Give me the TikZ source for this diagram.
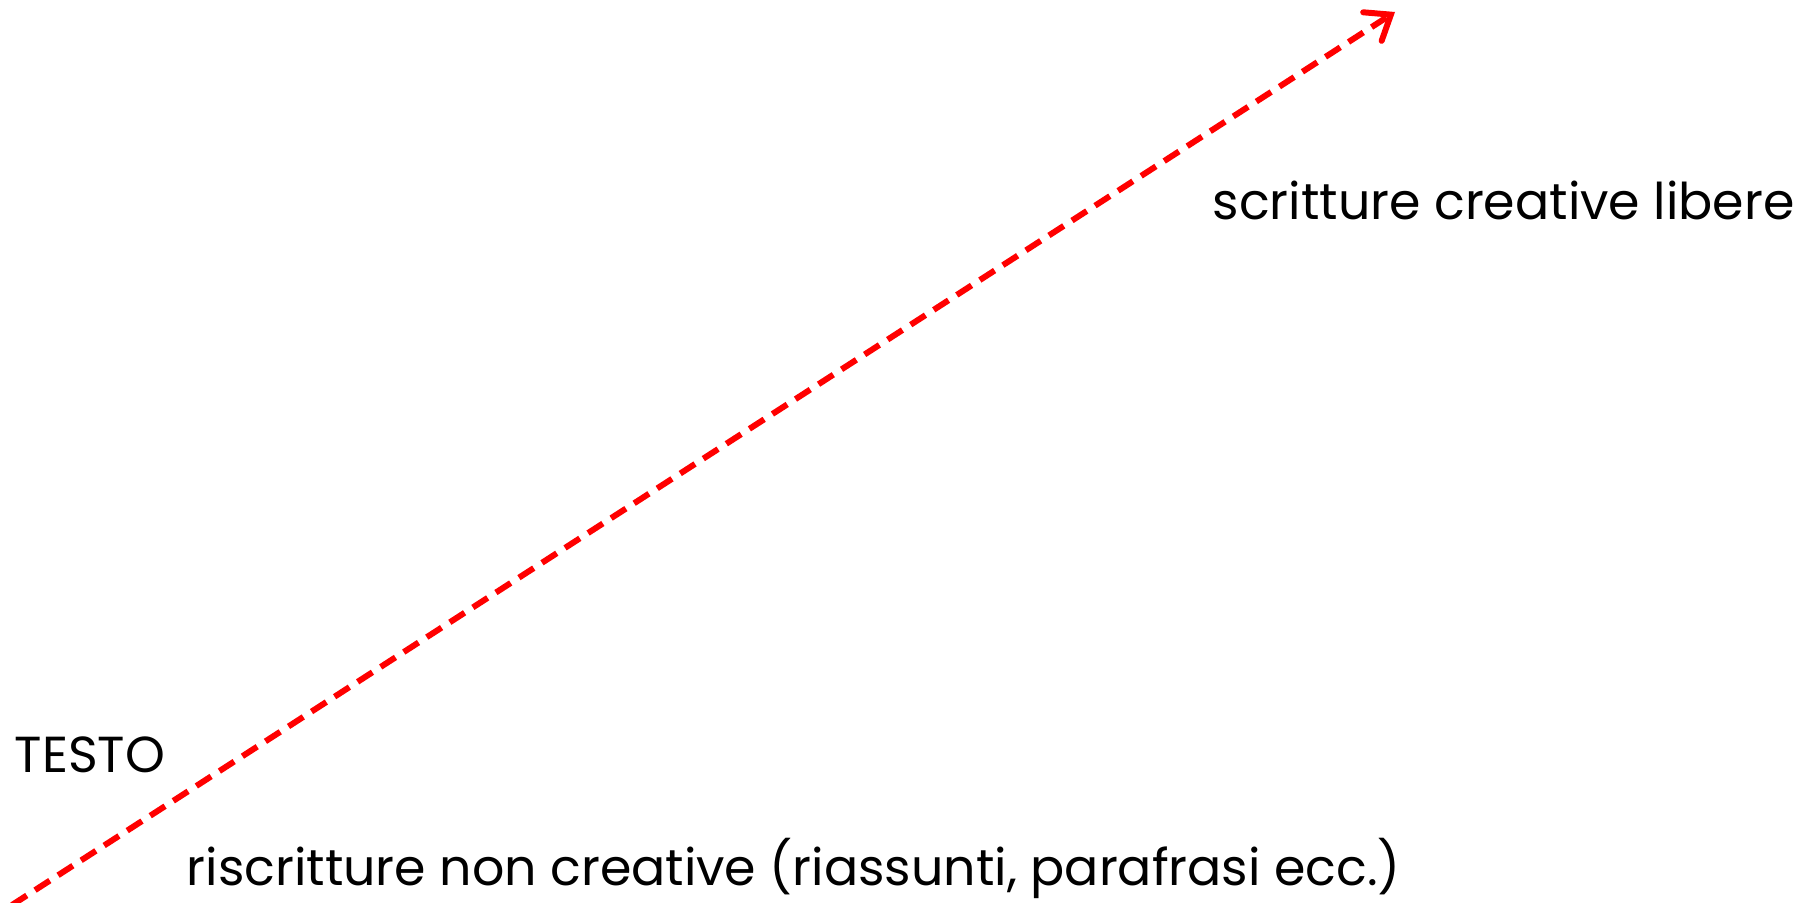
\documentclass[tikz,border=0pt]{standalone}
\usepackage{fontspec}
\setmainfont{Poppins}
\usetikzlibrary{arrows.meta,positioning}
\definecolor{RwRed}{RGB}{255,0,0}
\definecolor{RwInk}{RGB}{0,0,0}
\tikzset{
  rw/label/.style={
    font=\fontsize{14.4}{17}\selectfont,
    text=RwInk,
    inner sep=0pt,
    anchor=base west
  },
  rw/arrow/.style={
    -{Straight Barb[length=2.2mm,width=3.4mm,line cap=round]},
    line width=1.7pt,
    draw=RwRed,
    dash pattern=on 5pt off 2.8pt
  }
}
\begin{document}
\begin{tikzpicture}[x=0.01cm,y=0.01cm]
  \useasboundingbox (0,0) rectangle (1818,903);
  \coordinate (start) at (12,-2);
  \coordinate (tip) at (1395,891);
  \draw[rw/arrow] (start) -- (tip);
  \node[rw/label] (free) at (1212,683) {scritture creative libere};
  \node[rw/label] (testo) at (14,130) {TESTO};
  \node[rw/label] (nonfree) at (186,17) {riscritture non creative (riassunti, parafrasi ecc.)};
\end{tikzpicture}
\end{document}
